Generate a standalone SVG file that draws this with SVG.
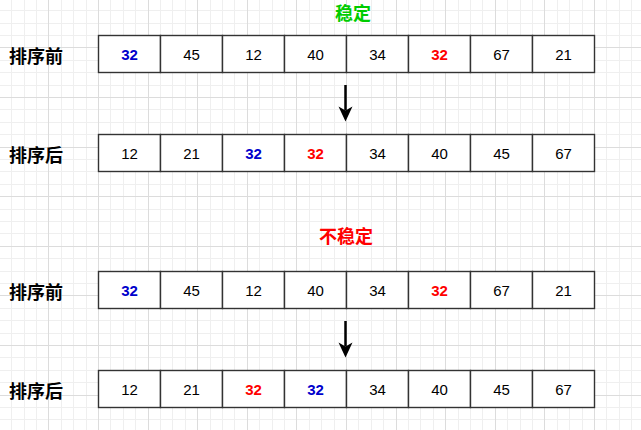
<svg xmlns="http://www.w3.org/2000/svg" width="641" height="430" viewBox="0 0 641 430">
<style>
.minor{stroke:#efefef;stroke-width:1;fill:none}
.major{stroke:#dcdcdc;stroke-width:1;fill:none}
.cell rect{fill:#ffffff;stroke:#333333;stroke-width:1.4}
.num{font-family:"Liberation Sans",Arial,sans-serif;font-size:15px;fill:#000000;text-anchor:middle}
.blue{fill:#0000cc;font-weight:bold}
.red{fill:#ff0000;font-weight:bold}
.lbl{font-family:"Noto Sans CJK SC","Noto Sans",sans-serif;font-size:18px;font-weight:bold;fill:#000000;dominant-baseline:central}
.title{font-family:"Noto Sans CJK SC","Noto Sans",sans-serif;font-size:18px;font-weight:bold;text-anchor:middle;dominant-baseline:central}
.conn{stroke:#000000;stroke-width:2.5;fill:none}
</style>
<defs>
<marker id="arrow" markerUnits="userSpaceOnUse" viewBox="-16 -8 17 16" markerWidth="17" markerHeight="16" refX="-11" refY="0" orient="auto">
<path d="M0 0L-15 -7L-11 0L-15 7Z" fill="#000000"/>
</marker>
</defs>
<rect width="641" height="430" fill="#ffffff"/>
<g id="grid">
<path class="minor" d="M11.5 0V430M24.5 0V430M36.5 0V430M61.5 0V430M73.5 0V430M86.5 0V430M110.5 0V430M123.5 0V430M135.5 0V430M160.5 0V430M172.5 0V430M185.5 0V430M210.5 0V430M222.5 0V430M234.5 0V430M259.5 0V430M272.5 0V430M284.5 0V430M309.5 0V430M321.5 0V430M334.5 0V430M358.5 0V430M371.5 0V430M383.5 0V430M408.5 0V430M420.5 0V430M433.5 0V430M458.5 0V430M470.5 0V430M482.5 0V430M507.5 0V430M520.5 0V430M532.5 0V430M557.5 0V430M569.5 0V430M582.5 0V430M606.5 0V430M619.5 0V430M631.5 0V430M0 10.5H641M0 23.5H641M0 35.5H641M0 60.5H641M0 72.5H641M0 85.5H641M0 109.5H641M0 122.5H641M0 134.5H641M0 159.5H641M0 171.5H641M0 184.5H641M0 209.5H641M0 221.5H641M0 233.5H641M0 258.5H641M0 271.5H641M0 283.5H641M0 308.5H641M0 320.5H641M0 333.5H641M0 357.5H641M0 370.5H641M0 382.5H641M0 407.5H641M0 419.5H641"/>
<path class="major" d="M48.5 0V430M98.5 0V430M148.5 0V430M197.5 0V430M247.5 0V430M296.5 0V430M346.5 0V430M396.5 0V430M445.5 0V430M495.5 0V430M544.5 0V430M594.5 0V430M0 47.5H641M0 97.5H641M0 147.5H641M0 196.5H641M0 246.5H641M0 295.5H641M0 345.5H641M0 395.5H641"/>
</g>
<g id="title-stable"><text class="title" x="353" y="12" fill="#00cc00">稳定</text></g>
<g id="title-unstable"><text class="title" x="346" y="235" fill="#ff0000">不稳定</text></g>
<g id="label-1"><text class="lbl" x="9" y="54.5">排序前</text></g>
<g id="label-2"><text class="lbl" x="9" y="153.5">排序后</text></g>
<g id="label-3"><text class="lbl" x="9" y="290.5">排序前</text></g>
<g id="label-4"><text class="lbl" x="9" y="389.5">排序后</text></g>
<g id="row1">
<g id="r1c1" class="cell"><rect x="98.5" y="35.5" width="62" height="37"/><text class="num blue" x="129.5" y="59.5">32</text></g>
<g id="r1c2" class="cell"><rect x="160.5" y="35.5" width="62" height="37"/><text class="num" x="191.5" y="59.5">45</text></g>
<g id="r1c3" class="cell"><rect x="222.5" y="35.5" width="62" height="37"/><text class="num" x="253.5" y="59.5">12</text></g>
<g id="r1c4" class="cell"><rect x="284.5" y="35.5" width="62" height="37"/><text class="num" x="315.5" y="59.5">40</text></g>
<g id="r1c5" class="cell"><rect x="346.5" y="35.5" width="62" height="37"/><text class="num" x="377.5" y="59.5">34</text></g>
<g id="r1c6" class="cell"><rect x="408.5" y="35.5" width="62" height="37"/><text class="num red" x="439.5" y="59.5">32</text></g>
<g id="r1c7" class="cell"><rect x="470.5" y="35.5" width="62" height="37"/><text class="num" x="501.5" y="59.5">67</text></g>
<g id="r1c8" class="cell"><rect x="532.5" y="35.5" width="62" height="37"/><text class="num" x="563.5" y="59.5">21</text></g>
</g>
<g id="row2">
<g id="r2c1" class="cell"><rect x="98.5" y="134.5" width="62" height="37"/><text class="num" x="129.5" y="158.5">12</text></g>
<g id="r2c2" class="cell"><rect x="160.5" y="134.5" width="62" height="37"/><text class="num" x="191.5" y="158.5">21</text></g>
<g id="r2c3" class="cell"><rect x="222.5" y="134.5" width="62" height="37"/><text class="num blue" x="253.5" y="158.5">32</text></g>
<g id="r2c4" class="cell"><rect x="284.5" y="134.5" width="62" height="37"/><text class="num red" x="315.5" y="158.5">32</text></g>
<g id="r2c5" class="cell"><rect x="346.5" y="134.5" width="62" height="37"/><text class="num" x="377.5" y="158.5">34</text></g>
<g id="r2c6" class="cell"><rect x="408.5" y="134.5" width="62" height="37"/><text class="num" x="439.5" y="158.5">40</text></g>
<g id="r2c7" class="cell"><rect x="470.5" y="134.5" width="62" height="37"/><text class="num" x="501.5" y="158.5">45</text></g>
<g id="r2c8" class="cell"><rect x="532.5" y="134.5" width="62" height="37"/><text class="num" x="563.5" y="158.5">67</text></g>
</g>
<g id="row3">
<g id="r3c1" class="cell"><rect x="98.5" y="271.5" width="62" height="37"/><text class="num blue" x="129.5" y="295.5">32</text></g>
<g id="r3c2" class="cell"><rect x="160.5" y="271.5" width="62" height="37"/><text class="num" x="191.5" y="295.5">45</text></g>
<g id="r3c3" class="cell"><rect x="222.5" y="271.5" width="62" height="37"/><text class="num" x="253.5" y="295.5">12</text></g>
<g id="r3c4" class="cell"><rect x="284.5" y="271.5" width="62" height="37"/><text class="num" x="315.5" y="295.5">40</text></g>
<g id="r3c5" class="cell"><rect x="346.5" y="271.5" width="62" height="37"/><text class="num" x="377.5" y="295.5">34</text></g>
<g id="r3c6" class="cell"><rect x="408.5" y="271.5" width="62" height="37"/><text class="num red" x="439.5" y="295.5">32</text></g>
<g id="r3c7" class="cell"><rect x="470.5" y="271.5" width="62" height="37"/><text class="num" x="501.5" y="295.5">67</text></g>
<g id="r3c8" class="cell"><rect x="532.5" y="271.5" width="62" height="37"/><text class="num" x="563.5" y="295.5">21</text></g>
</g>
<g id="row4">
<g id="r4c1" class="cell"><rect x="98.5" y="370.5" width="62" height="37"/><text class="num" x="129.5" y="394.5">12</text></g>
<g id="r4c2" class="cell"><rect x="160.5" y="370.5" width="62" height="37"/><text class="num" x="191.5" y="394.5">21</text></g>
<g id="r4c3" class="cell"><rect x="222.5" y="370.5" width="62" height="37"/><text class="num red" x="253.5" y="394.5">32</text></g>
<g id="r4c4" class="cell"><rect x="284.5" y="370.5" width="62" height="37"/><text class="num blue" x="315.5" y="394.5">32</text></g>
<g id="r4c5" class="cell"><rect x="346.5" y="370.5" width="62" height="37"/><text class="num" x="377.5" y="394.5">34</text></g>
<g id="r4c6" class="cell"><rect x="408.5" y="370.5" width="62" height="37"/><text class="num" x="439.5" y="394.5">40</text></g>
<g id="r4c7" class="cell"><rect x="470.5" y="370.5" width="62" height="37"/><text class="num" x="501.5" y="394.5">45</text></g>
<g id="r4c8" class="cell"><rect x="532.5" y="370.5" width="62" height="37"/><text class="num" x="563.5" y="394.5">67</text></g>
</g>
<g id="connectors">
<path class="conn" d="M345.5 85V110.5" marker-end="url(#arrow)"/>
<path class="conn" d="M345.5 321V346.5" marker-end="url(#arrow)"/>
</g>
</svg>
